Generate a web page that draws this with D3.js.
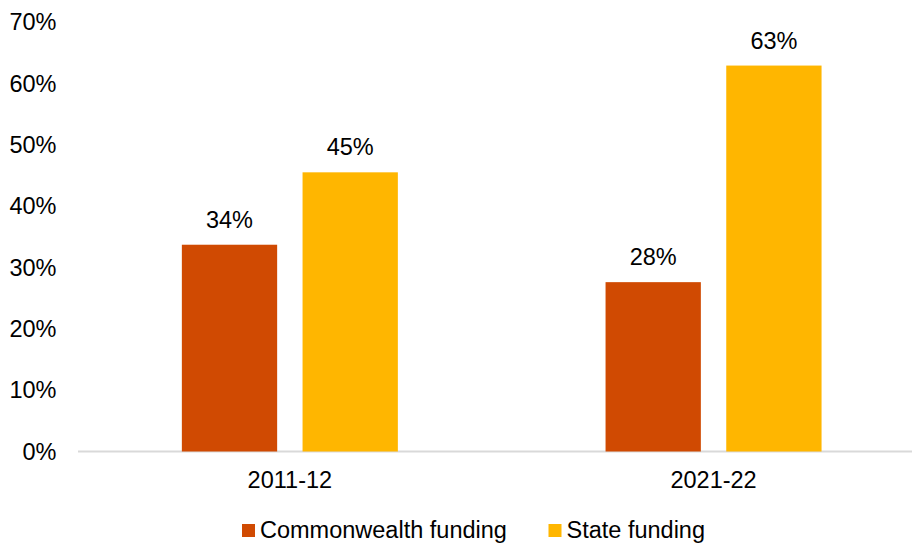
<!DOCTYPE html>
<html><head><meta charset="utf-8">
<script src="https://cdn.jsdelivr.net/npm/d3@7"></script>
<style>body{margin:0;background:#fff}svg{display:block}text{font-family:"Liberation Sans",Arial,sans-serif;fill:#000}</style>
</head><body><svg id="c" width="912" height="545"></svg>
<script>
const categories = ["2011-12", "2021-22"];
const seriesNames = ["Commonwealth funding", "State funding"];
const commonwealth = [33.7, 27.6];
const state = [45.5, 62.9];
const labels = [["34%", "28%"], ["45%", "63%"]];
const yTicks = [0, 10, 20, 30, 40, 50, 60, 70];
const colors = ["#D04A02", "#FFB600"];

const svg = d3.select("#c");
const mLeft = 78, mRight = 925.4, mTop = 22, mBottom = 451.5;
const x = d3.scaleBand().domain(categories).range([mLeft, mRight]).padding(0);
const y = d3.scaleLinear().domain([0, 70]).range([mBottom, mTop]);
const bw = 95.3, gap = 25.4;
const sub = d3.scaleBand().domain(seriesNames).range([0, 2*bw+gap]).paddingInner(gap/(bw+gap)).paddingOuter(0);
const fs = 23.5;

// y axis labels
svg.append("g").selectAll("text").data(yTicks).join("text")
  .attr("x", 56.5).attr("y", d => y(d)).attr("dy", "0.35em")
  .attr("text-anchor", "end").attr("font-size", fs).text(d => d + "%");

// x axis line
svg.append("line").attr("x1", mLeft).attr("x2", 912).attr("y1", mBottom).attr("y2", mBottom)
  .attr("stroke", "#D9D9D9").attr("stroke-width", 2);

const data = [commonwealth, state];
seriesNames.forEach((s, si) => {
  const g = svg.append("g");
  categories.forEach((c, ci) => {
    const x0 = x(c) + x.bandwidth()/2 - (2*bw+gap)/2 + sub(s);
    const v = data[si][ci];
    g.append("rect").attr("x", x0).attr("y", y(v)).attr("width", sub.bandwidth())
      .attr("height", y(0) - y(v)).attr("fill", colors[si]);
    g.append("text").attr("x", x0 + sub.bandwidth()/2).attr("y", y(v) - 17)
      .attr("text-anchor", "middle").attr("font-size", fs).text(labels[si][ci]);
  });
});

// category labels
svg.append("g").selectAll("text").data(categories).join("text")
  .attr("x", d => x(d) + x.bandwidth()/2).attr("y", 487.5)
  .attr("text-anchor", "middle").attr("font-size", fs).text(d => d);

// legend
const leg = [{n: seriesNames[0], x: 242}, {n: seriesNames[1], x: 548.5}];
leg.forEach((l, i) => {
  svg.append("rect").attr("x", l.x).attr("y", 524).attr("width", 13).attr("height", 13).attr("fill", colors[i]);
  svg.append("text").attr("x", l.x + 18).attr("y", 537.5).attr("font-size", fs).text(l.n);
});
</script></body></html>
